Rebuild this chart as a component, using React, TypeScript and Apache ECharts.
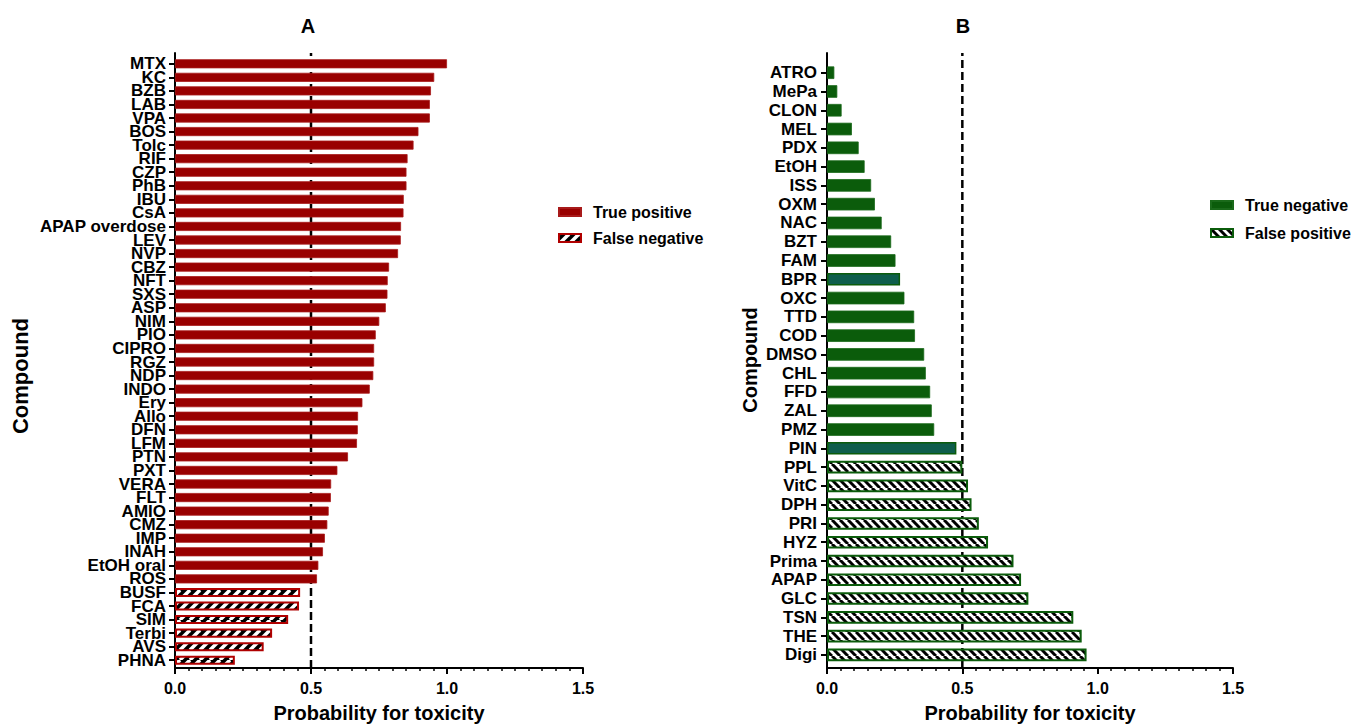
import React, { useEffect, useRef } from "react";
import * as echarts from "echarts";

// ---------- Data ----------
const A_TP_NAMES = ["MTX", "KC", "BZB", "LAB", "VPA", "BOS", "Tolc", "RIF", "CZP", "PhB", "IBU", "CsA", "APAP overdose", "LEV", "NVP", "CBZ", "NFT", "SXS", "ASP", "NIM", "PIO", "CIPRO", "RGZ", "NDP", "INDO", "Ery", "Allo", "DFN", "LFM", "PTN", "PXT", "VERA", "FLT", "AMIO", "CMZ", "IMP", "INAH", "EtOH oral", "ROS"];
const A_TP_VALUES = [1.0, 0.953, 0.941, 0.937, 0.937, 0.895, 0.877, 0.855, 0.851, 0.851, 0.841, 0.84, 0.831, 0.83, 0.82, 0.787, 0.782, 0.781, 0.775, 0.751, 0.738, 0.732, 0.732, 0.729, 0.716, 0.689, 0.673, 0.672, 0.669, 0.636, 0.597, 0.574, 0.573, 0.565, 0.56, 0.551, 0.544, 0.527, 0.522];
const A_FN_NAMES = ["BUSF", "FCA", "SIM", "Terbi", "AVS", "PHNA"];
const A_FN_VALUES = [0.46, 0.456, 0.416, 0.357, 0.326, 0.22];

const B_TN_NAMES = ["ATRO", "MePa", "CLON", "MEL", "PDX", "EtOH", "ISS", "OXM", "NAC", "BZT", "FAM", "BPR", "OXC", "TTD", "COD", "DMSO", "CHL", "FFD", "ZAL", "PMZ", "PIN"];
const B_TN_VALUES = [0.027, 0.038, 0.054, 0.092, 0.117, 0.139, 0.163, 0.177, 0.202, 0.237, 0.253, 0.27, 0.286, 0.322, 0.325, 0.359, 0.365, 0.381, 0.387, 0.396, 0.478];
const B_FP_NAMES = ["PPL", "VitC", "DPH", "PRI", "HYZ", "Prima", "APAP", "GLC", "TSN", "THE", "Digi"];
const B_FP_VALUES = [0.5, 0.521, 0.534, 0.561, 0.595, 0.689, 0.717, 0.744, 0.91, 0.941, 0.959];
const B_TEAL_NAMES = ["BPR", "PIN"];

const X_TICKS = [0, 0.5, 1.0, 1.5];
const THRESHOLD = 0.5;

// ---------- Styles ----------
const FONT = 'Arial, "Liberation Sans", Helvetica, sans-serif';
const RED = "#990000";
const GREEN = "#0b5c0b";
const TEAL = "#0e5e4c";

function stripes(bg: string, fg: string, dir: "/" | "\\", period: number, lw: number) {
  const c = document.createElement("canvas");
  c.width = period;
  c.height = period;
  const ctx = c.getContext("2d")!;
  ctx.fillStyle = bg;
  ctx.fillRect(0, 0, period, period);
  ctx.strokeStyle = fg;
  ctx.lineWidth = lw;
  for (const off of [-period, 0, period]) {
    ctx.beginPath();
    if (dir === "/") {
      ctx.moveTo(off, period);
      ctx.lineTo(off + period, 0);
    } else {
      ctx.moveTo(off, 0);
      ctx.lineTo(off + period, period);
    }
    ctx.stroke();
  }
  return c;
}

export default function App() {
  const ref = useRef<HTMLDivElement>(null);

  useEffect(() => {
    if (!ref.current) return;
    const chart = echarts.init(ref.current, undefined, { renderer: "svg" });

    const patA = { image: stripes("#000000", "#ffffff", "/", 10, 3.5), repeat: "repeat" };
    const patB = { image: stripes("#ffffff", "#000000", "\\", 8, 3), repeat: "repeat" };

    const aCats = [...A_TP_NAMES, ...A_FN_NAMES];
    const bCats = [...B_TN_NAMES, ...B_FP_NAMES];

    const panels = [
      { barsLeft: 175, width: 408, barsTop: 57, barsH: 610, cats: aCats, margin: 9 },
      { barsLeft: 827, width: 406, barsTop: 63.3, barsH: 601, cats: bCats, margin: 10 },
    ];

    const grid: any[] = [];
    const xAxis: any[] = [];
    const yAxis: any[] = [];
    panels.forEach((p, i) => {
      grid.push({ left: p.barsLeft, width: p.width, top: p.barsTop, height: p.barsH });
      grid.push({ left: p.barsLeft, width: p.width, top: 53, height: 615 });
      xAxis.push({ type: "value", gridIndex: 2 * i, min: 0, max: 1.5, show: false });
      xAxis.push({
        type: "value",
        gridIndex: 2 * i + 1,
        min: X_TICKS[0],
        max: X_TICKS[X_TICKS.length - 1],
        interval: 0.5,
        axisLine: { show: true, lineStyle: { color: "#000", width: 2 } },
        axisTick: { show: true, length: 6, lineStyle: { color: "#000", width: 2 } },
        minorTick: { show: true, splitNumber: 10, length: 3, lineStyle: { color: "#000", width: 1.5 } },
        splitLine: { show: false },
        axisLabel: {
          margin: 12,
          fontSize: 16,
          fontWeight: "bold",
          color: "#000",
          fontFamily: FONT,
          formatter: (v: number) => v.toFixed(1),
        },
      });
      yAxis.push({
        type: "category",
        gridIndex: 2 * i,
        data: p.cats,
        inverse: true,
        axisLine: { show: false },
        axisTick: { show: true, alignWithLabel: true, length: 6, lineStyle: { color: "#000", width: 2 } },
        axisLabel: {
          interval: 0,
          margin: p.margin,
          fontSize: 17,
          fontWeight: "bold",
          color: "#000",
          fontFamily: FONT,
        },
      });
      yAxis.push({
        type: "value",
        gridIndex: 2 * i + 1,
        min: 0,
        max: 1,
        axisLine: { show: true, lineStyle: { color: "#000", width: 2 } },
        axisTick: { show: false },
        axisLabel: { show: false },
        splitLine: { show: false },
      });
    });

    const dashed = (idx: number) => ({
      type: "line",
      xAxisIndex: idx,
      yAxisIndex: idx,
      data: [
        [THRESHOLD, 0],
        [THRESHOLD, 1],
      ],
      symbol: "none",
      silent: true,
      z: 1,
      lineStyle: { color: "#000", width: 2.5, type: [8, 4] },
    });

    const barCommon = { type: "bar", barGap: "-100%", barCategoryGap: "33%", z: 2 };

    const series: any[] = [
      {
        ...barCommon,
        name: "True positive",
        xAxisIndex: 0,
        yAxisIndex: 0,
        data: A_TP_NAMES.map((n, i) => [A_TP_VALUES[i], n]),
        itemStyle: { color: RED, borderColor: "#a81a1a", borderWidth: 0.8 },
      },
      {
        ...barCommon,
        name: "False negative",
        xAxisIndex: 0,
        yAxisIndex: 0,
        data: A_FN_NAMES.map((n, i) => [A_FN_VALUES[i], n]),
        itemStyle: { color: patA, borderColor: "#b00000", borderWidth: 2 },
      },
      dashed(1),
      {
        ...barCommon,
        name: "True negative",
        xAxisIndex: 2,
        yAxisIndex: 2,
        data: B_TN_NAMES.map((n, i) =>
          B_TEAL_NAMES.includes(n)
            ? { value: [B_TN_VALUES[i], n], itemStyle: { color: TEAL, borderColor: GREEN, borderWidth: 1.5 } }
            : [B_TN_VALUES[i], n]
        ),
        itemStyle: { color: GREEN, borderColor: "#1a6a1a", borderWidth: 0.8 },
      },
      {
        ...barCommon,
        name: "False positive",
        xAxisIndex: 2,
        yAxisIndex: 2,
        data: B_FP_NAMES.map((n, i) => [B_FP_VALUES[i], n]),
        itemStyle: { color: patB, borderColor: GREEN, borderWidth: 2 },
      },
      dashed(3),
    ];

    const legendCommon = {
      orient: "vertical",
      padding: 0,
      itemWidth: 22,
      itemHeight: 8,
      itemGap: 10,
      icon: "rect",
      selectedMode: false,
      textStyle: { fontSize: 16, fontWeight: "bold", color: "#000", fontFamily: FONT, padding: [0, 0, 0, 7] },
    };

    const txt = (text: string, x: number, y: number, size: number, rot = 0) => ({
      type: "text",
      x,
      y,
      rotation: rot,
      silent: true,
      style: {
        text,
        fill: "#000",
        fontSize: size,
        fontWeight: "bold",
        fontFamily: FONT,
        align: "center",
        verticalAlign: "middle",
      },
    });

    chart.setOption({
      animation: false,
      backgroundColor: "#fff",
      grid,
      xAxis,
      yAxis,
      series,
      legend: [
        { ...legendCommon, left: 558, top: 204, data: ["True positive", "False negative"] },
        { ...legendCommon, left: 1210, top: 197, itemGap: 12, data: ["True negative", "False positive"] },
      ],
      graphic: [
        txt("A", 308, 25.5, 20),
        txt("B", 963, 25.5, 20),
        txt("Compound", 20, 376, 22, Math.PI / 2),
        txt("Compound", 750, 360, 20, Math.PI / 2),
        txt("Probability for toxicity", 379, 713, 20),
        txt("Probability for toxicity", 1030, 713, 20),
      ],
    });

    return () => chart.dispose();
  }, []);

  return (
    <div
      ref={ref}
      style={{ position: "fixed", left: 0, top: 0, width: 1354, height: 724, background: "#fff" }}
    />
  );
}
